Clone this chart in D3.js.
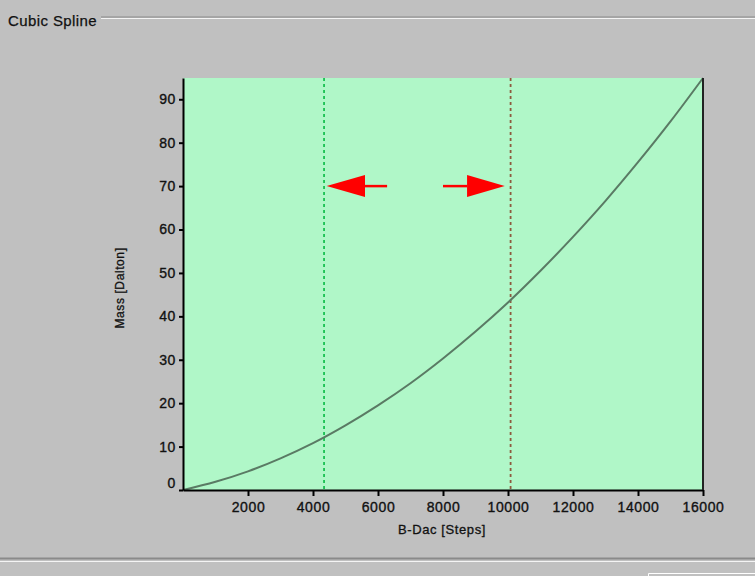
<!DOCTYPE html>
<html><head><meta charset="utf-8">
<script src="https://cdn.jsdelivr.net/npm/d3@7"></script>
<style>
html,body{margin:0;padding:0;background:#c0c0c0;}
svg{display:block;}
text{font-family:"Liberation Sans",Arial,sans-serif;fill:#111;}
</style></head>
<body>
<svg id="chart" width="755" height="576"></svg>
<script>
// Data
const bdac = [0,1000,2000,3000,4000,5000,6000,7000,8000,9000,10000,11000,12000,13000,14000,15000,16000];
const mass = [0,1.9,4.3,7.3,10.8,14.9,19.5,24.6,30.3,36.5,43.2,50.5,58.3,66.6,75.5,84.9,94.9];
const xTicks = [2000,4000,6000,8000,10000,12000,14000,16000];
const yTicks = [0,10,20,30,40,50,60,70,80,90];
const markerLeft = 4340;   // green dashed line
const markerRight = 10080; // red dashed line
const arrowLeft = {from: 6280, head: 5600, to: 4420, y: 70};
const arrowRight = {from: 8000, head: 8740, to: 9900, y: 70};

(function(){
const svg = d3.select("#chart");
const W = 755, H = 576;
const pL = 183, pR = 703, pT = 78, pB = 490;

// group box frame
svg.append("rect").attr("width",W).attr("height",H).attr("fill","#c0c0c0");
svg.append("text").attr("x",8).attr("y",26).attr("font-size",15).attr("letter-spacing",0.4)
  .attr("stroke","#111").attr("stroke-width",0.25).text("Cubic Spline");
svg.append("line").attr("x1",101).attr("x2",W).attr("y1",17).attr("y2",17).attr("stroke","#8a8a8a");
svg.append("line").attr("x1",101).attr("x2",W).attr("y1",18.5).attr("y2",18.5).attr("stroke","#f4f4f4");
svg.append("line").attr("x1",0).attr("x2",W).attr("y1",558.5).attr("y2",558.5).attr("stroke","#8a8a8a").attr("stroke-width",2);
svg.append("line").attr("x1",0).attr("x2",W).attr("y1",561.5).attr("y2",561.5).attr("stroke","#f4f4f4");
svg.append("path").attr("d",`M648.5,577 V573.5 H756`).attr("fill","none").attr("stroke","#ffffff");

const x = d3.scaleLinear().domain([0,16000]).range([pL,pR]);
const y = d3.scaleLinear().domain([0,94.9]).range([pB,pT]);

// plot area
svg.append("rect").attr("x",pL).attr("y",pT).attr("width",pR-pL).attr("height",pB-pT).attr("fill","#b0f7c8");

// markers
svg.append("line").attr("x1",x(markerLeft)).attr("x2",x(markerLeft)).attr("y1",pT).attr("y2",pB)
  .attr("stroke","#18c050").attr("stroke-width",1.8).attr("stroke-dasharray","3,3");
svg.append("line").attr("x1",x(markerRight)).attr("x2",x(markerRight)).attr("y1",pT).attr("y2",pB)
  .attr("stroke","#8d5a3e").attr("stroke-width",1.8).attr("stroke-dasharray","3,3");

// curve
const line = d3.line().x((d,i)=>x(bdac[i])).y(d=>y(d)).curve(d3.curveMonotoneX);
svg.append("path").datum(mass).attr("d",line).attr("fill","none").attr("stroke","#5a7a64").attr("stroke-width",2);

// arrows
function arrow(a){
  const yy = y(a.y);
  svg.append("line").attr("x1",x(a.from)).attr("x2",x(a.head)).attr("y1",yy).attr("y2",yy)
    .attr("stroke","#ff0000").attr("stroke-width",2.5);
  svg.append("path").attr("d",`M${x(a.to)},${yy} L${x(a.head)},${yy-11} L${x(a.head)},${yy+11} Z`).attr("fill","#ff0000");
}
arrow(arrowLeft); arrow(arrowRight);

// axes
const fmt = d3.format("d");
const gx = svg.append("g").attr("transform",`translate(0,${pB})`)
  .call(d3.axisBottom(x).tickValues(xTicks).tickFormat(fmt).tickSize(6).tickPadding(6).tickSizeOuter(0));
gx.select(".domain").attr("stroke","#000").attr("stroke-width",2);
gx.selectAll(".tick line").attr("stroke","#000").attr("stroke-width",2);
gx.selectAll("text").attr("font-size",14).attr("letter-spacing",0.6).attr("font-family","Liberation Sans, Arial, sans-serif")
  .attr("fill","#111").attr("stroke","#111").attr("stroke-width",0.35);

const gy = svg.append("g").attr("transform",`translate(${pL},0)`)
  .call(d3.axisLeft(y).tickValues(yTicks).tickFormat(fmt).tickSize(4).tickPadding(3).tickSizeOuter(0));
gy.select(".domain").attr("stroke","#000").attr("stroke-width",2);
gy.selectAll(".tick line").attr("stroke","#000").attr("stroke-width",2);
gy.selectAll("text").attr("font-size",14).attr("letter-spacing",0.6).attr("font-family","Liberation Sans, Arial, sans-serif")
  .attr("fill","#111").attr("stroke","#111").attr("stroke-width",0.35);
gy.selectAll(".tick").filter(d=>d===0).select("text").attr("dy","-0.2em");

// right edge of plot
svg.append("line").attr("x1",pR).attr("x2",pR).attr("y1",pT).attr("y2",pB).attr("stroke","#222").attr("stroke-width",2);

// axis titles
svg.append("text").attr("x",442).attr("y",534).attr("text-anchor","middle").attr("font-size",13).attr("letter-spacing",0.6)
  .attr("stroke","#111").attr("stroke-width",0.3).text("B-Dac [Steps]");
svg.append("text").attr("transform",`translate(124,288) rotate(-90)`).attr("text-anchor","middle").attr("font-size",12).attr("letter-spacing",0.6)
  .attr("stroke","#111").attr("stroke-width",0.3).text("Mass [Dalton]");
})();
</script>
</body></html>
